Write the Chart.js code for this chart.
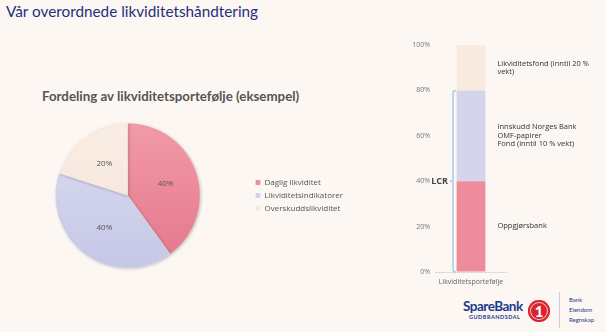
<!DOCTYPE html>
<html lang="no">
<head>
<meta charset="utf-8">
<title>Likviditetshåndtering</title>
<script src="https://cdn.jsdelivr.net/npm/chart.js@4.4.1/dist/chart.umd.min.js"></script>
<style>
  html, body { margin: 0; padding: 0; }
  body {
    width: 606px; height: 332px; overflow: hidden; position: relative;
    background: #fcf7f3; font-family: Lato, "Open Sans", sans-serif;
  }
  .slide-title {
    position: absolute; left: 6px; top: 2px; margin: 0;
    font-size: 15.3px; font-weight: 400; color: #1f2f7c; white-space: nowrap;
  }
  .pie-title {
    position: absolute; left: 42px; top: 88px; margin: 0;
    font-size: 13.3px; font-weight: 700; color: #555; white-space: nowrap;
  }
  #pieChart { position: absolute; left: 0; top: 118px; }
  #barChart { position: absolute; left: 395px; top: 35px; }

  .logo .sb {
    position: absolute; left: 463px; top: 299px; font-size: 13.5px; font-weight: 700;
    color: #1c3a8c; letter-spacing: -0.5px; line-height: 15px;
  }
  .logo .gd {
    position: absolute; left: 469px; top: 314px; font-size: 5.5px; font-weight: 700;
    color: #1c3a8c; letter-spacing: 0.5px; line-height: 6px;
  }
  .logo .one {
    position: absolute; left: 528px; top: 300px; width: 22px; height: 22px; border-radius: 50%;
    background: #d9232e; color: #fff; font-size: 15px; font-weight: 900; text-align: center;
    line-height: 22px; box-shadow: inset 0 0 0 2px #d9232e, inset 0 0 0 3px #f6c9cc;
  }
  .logo .sep {
    position: absolute; left: 559px; top: 292px; width: 1px; height: 36px; background: #c9cfe0;
  }
  .logo .units {
    position: absolute; left: 569px; top: 295px; font-size: 6px; line-height: 10px; color: #1c3a8c;
  }
</style>
</head>
<body>
<h1 class="slide-title">Vår overordnede likviditetshåndtering</h1>
<h2 class="pie-title">Fordeling av likviditetsportefølje (eksempel)</h2>
<canvas id="pieChart" width="353" height="155"></canvas>
<canvas id="barChart" width="211" height="257"></canvas>
<div class="logo">
  <span class="sb">SpareBank</span>
  <span class="gd">GUDBRANDSDAL</span>
  <span class="one">1</span>
  <span class="sep"></span>
  <span class="units">Bank<br>Eiendom<br>Regnskap</span>
</div>

<script>
// kakediagram: fordeling av porteføljen
const pieLabels = ["Daglig likviditet", "Likviditetsindikatorer", "Overskuddslikviditet"];
const pieValues = [40, 40, 20];

// stablet søyle: likviditetsporteføljen
const barCategories = ["Likviditetsportefølje"];
const barSeries = ["Oppgjørsbank", "Innskudd Norges Bank", "Likviditetsfond"];
const barValues = [40, 40, 20];
const barNotes = [
  ["Oppgjørsbank"],
  ["Innskudd Norges Bank", "OMF-papirer", "Fond (inntil 10 % vekt)"],
  ["Likviditetsfond (inntil 20 %", "vekt)"]
];
const lcrRange = [0, 80];

const pieTop = ["#f29aa8", "#dcdcf1", "#f9ede4"];
const pieBottom = ["#e4768b", "#c5c7e6", "#f5e4d8"];
const barColors = ["#ec8c9c", "#d4d5ec", "#f8eadf"];

const TEXT_FONT = '"Open Sans", sans-serif';

function pieFill(c) {
  const area = c.chart.chartArea;
  if (!area) return pieTop[c.dataIndex];
  const g = c.chart.ctx.createLinearGradient(0, area.top, 0, area.bottom);
  g.addColorStop(0, pieTop[c.dataIndex]);
  g.addColorStop(1, pieBottom[c.dataIndex]);
  return g;
}

// litt skygge rundt kaka
const pieShadow = {
  id: "pieShadow",
  beforeDatasetsDraw(chart) {
    const ctx = chart.ctx;
    ctx.save();
    ctx.shadowColor = "rgba(0,0,0,0.22)";
    ctx.shadowBlur = 3;
    ctx.shadowOffsetX = 1;
    ctx.shadowOffsetY = 1;
  },
  afterDatasetsDraw(chart) {
    chart.ctx.restore();
  }
};

// prosenttekst inne i hver sektor
const sliceLabels = {
  id: "sliceLabels",
  afterDatasetsDraw(chart) {
    const ctx = chart.ctx;
    const meta = chart.getDatasetMeta(0);
    ctx.save();
    ctx.font = "8px " + TEXT_FONT;
    ctx.fillStyle = "#555";
    ctx.textAlign = "center";
    ctx.textBaseline = "middle";
    meta.data.forEach((arc, i) => {
      const mid = (arc.startAngle + arc.endAngle) / 2;
      const r = arc.outerRadius * 0.55;
      ctx.fillText(pieValues[i] + "%", arc.x + Math.cos(mid) * r, arc.y + Math.sin(mid) * r);
    });
    ctx.restore();
  }
};

new Chart(document.getElementById("pieChart"), {
  type: "pie",
  data: {
    labels: pieLabels,
    datasets: [{
      data: pieValues,
      backgroundColor: pieFill,
      borderColor: "rgba(255,255,255,0.35)",
      borderWidth: 0.5
    }]
  },
  options: {
    responsive: false,
    animation: false,
    layout: { padding: { left: 5, top: 5, bottom: 5, right: 0 } },
    plugins: {
      tooltip: { enabled: false },
      legend: {
        position: "right",
        labels: {
          boxWidth: 5,
          boxHeight: 5,
          padding: 5,
          color: "#555",
          font: { size: 8, family: TEXT_FONT }
        }
      }
    }
  },
  plugins: [pieShadow, sliceLabels]
});

// tekst til høyre for hvert segment
const segmentNotes = {
  id: "segmentNotes",
  afterDatasetsDraw(chart) {
    const ctx = chart.ctx;
    ctx.save();
    ctx.font = "7.5px " + TEXT_FONT;
    ctx.fillStyle = "#333";
    ctx.textAlign = "left";
    ctx.textBaseline = "middle";
    chart.data.datasets.forEach((ds, i) => {
      const bar = chart.getDatasetMeta(i).data[0];
      const mid = (bar.y + bar.base) / 2;
      const x = bar.x + bar.width / 2 + 12;
      const lines = barNotes[i];
      const lh = 8.5;
      lines.forEach((t, j) => {
        ctx.fillText(t, x, mid + (j - (lines.length - 1) / 2) * lh);
      });
    });
    ctx.restore();
  }
};

// LCR-klamme langs søyla
const lcrBracket = {
  id: "lcrBracket",
  afterDatasetsDraw(chart) {
    const ctx = chart.ctx;
    const y = chart.scales.y;
    const x = chart.chartArea.left + 18;
    const y0 = y.getPixelForValue(lcrRange[0]);
    const y1 = y.getPixelForValue(lcrRange[1]);
    const ym = y.getPixelForValue((lcrRange[0] + lcrRange[1]) / 2);
    ctx.save();
    ctx.strokeStyle = "#a9cbe6";
    ctx.lineWidth = 1.5;
    ctx.beginPath();
    ctx.moveTo(x + 3, y1);
    ctx.quadraticCurveTo(x, y1, x, y1 + 3);
    ctx.lineTo(x, y0 - 3);
    ctx.quadraticCurveTo(x, y0, x + 3, y0);
    ctx.moveTo(x - 3, ym);
    ctx.lineTo(x, ym);
    ctx.stroke();
    ctx.font = "bold 9px " + TEXT_FONT;
    ctx.fillStyle = "#444";
    ctx.textAlign = "right";
    ctx.textBaseline = "middle";
    ctx.fillText("LCR", x - 5, ym);
    ctx.restore();
  }
};

new Chart(document.getElementById("barChart"), {
  type: "bar",
  data: {
    labels: barCategories,
    datasets: barSeries.map((name, i) => ({
      label: name,
      data: [barValues[i]],
      backgroundColor: barColors[i],
      barPercentage: 0.5,
      categoryPercentage: 0.8
    }))
  },
  options: {
    responsive: false,
    animation: false,
    layout: { padding: { left: 0, top: 10, right: 99, bottom: 0 } },
    plugins: { legend: { display: false }, tooltip: { enabled: false } },
    scales: {
      x: {
        stacked: true,
        grid: { display: false, drawTicks: false },
        border: { display: false },
        ticks: { color: "#666", padding: 6, font: { size: 7, family: TEXT_FONT } },
        afterFit: (s) => { s.height = 20; }
      },
      y: {
        stacked: true,
        min: 0,
        max: 100,
        border: { display: false },
        grid: {
          drawTicks: false,
          color: (c) => (c.tick && c.tick.value === 0 ? "#e0dcd8" : "transparent")
        },
        ticks: {
          stepSize: 20,
          padding: 5,
          color: "#777",
          font: { size: 7, family: TEXT_FONT },
          callback: (v) => v + "%"
        },
        afterFit: (s) => { s.width = 40; }
      }
    }
  },
  plugins: [segmentNotes, lcrBracket]
});
</script>
</body>
</html>
